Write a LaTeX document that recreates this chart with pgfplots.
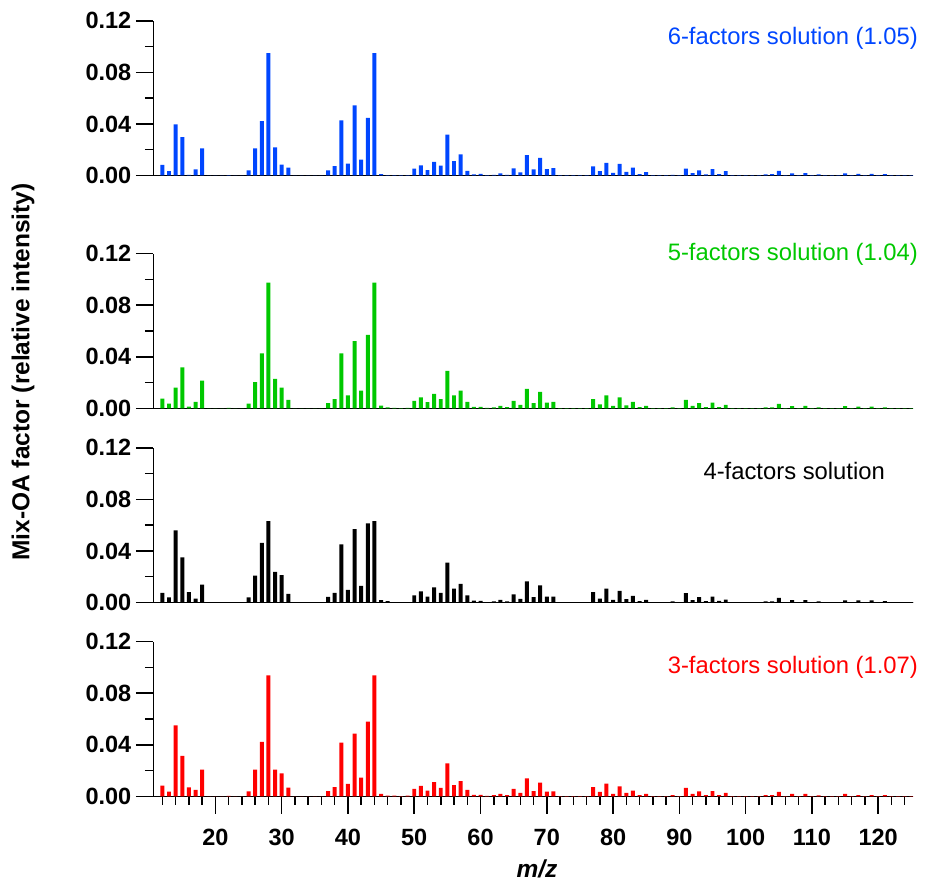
\documentclass[border=0pt]{standalone}
\usepackage{fontspec}
\setmainfont{Liberation Sans}
\usepackage{pgfplots}
\usepackage{pgfplotstable}
\pgfplotsset{compat=1.18}
\definecolor{cblue}{RGB}{0,70,255}
\definecolor{cgreen}{RGB}{0,200,0}
\definecolor{cred}{RGB}{255,0,0}

\pgfplotstableread{
mz b g k r
12 0.0083 0.0075 0.0075 0.0083
13 0.0034 0.0036 0.0039 0.0036
14 0.0396 0.0160 0.0560 0.0551
15 0.0298 0.0318 0.0351 0.0313
16 0.0005 0.0013 0.0080 0.0070
17 0.0047 0.0049 0.0031 0.0049
18 0.0210 0.0215 0.0139 0.0207
19 0 0 0 0
20 0 0 0 0
21 0 0 0 0
22 0.0003 0.0003 0.0002 0.0003
23 0 0 0 0
24 0 0 0 0
25 0.0039 0.0036 0.0039 0.0039
26 0.0210 0.0204 0.0209 0.0207
27 0.0422 0.0427 0.0462 0.0422
28 0.0950 0.0975 0.0632 0.0939
29 0.0218 0.0228 0.0237 0.0207
30 0.0085 0.0160 0.0212 0.0178
31 0.0062 0.0065 0.0067 0.0067
32 0 0 0 0
33 0 0 0 0
34 0 0 0 0
35 0 0 0 0
36 0 0 0 0
37 0.0039 0.0041 0.0044 0.0041
38 0.0073 0.0072 0.0075 0.0072
39 0.0427 0.0427 0.0452 0.0416
40 0.0093 0.0101 0.0098 0.0096
41 0.0544 0.0522 0.0570 0.0486
42 0.0124 0.0137 0.0129 0.0145
43 0.0448 0.0569 0.0614 0.0579
44 0.0950 0.0975 0.0632 0.0939
45 0.0010 0.0020 0.0018 0.0018
46 0.0003 0.0008 0.0010 0.0005
47 0.0003 0.0003 0.0003 0.0005
48 0.0002 0.0002 0.0002 0.0002
49 0.0003 0.0003 0.0003 0.0005
50 0.0053 0.0057 0.0056 0.0057
51 0.0079 0.0085 0.0086 0.0081
52 0.0042 0.0048 0.0045 0.0044
53 0.0106 0.0112 0.0118 0.0110
54 0.0076 0.0071 0.0074 0.0066
55 0.0318 0.0291 0.0310 0.0256
56 0.0111 0.0101 0.0107 0.0086
57 0.0163 0.0137 0.0145 0.0118
58 0.0035 0.0049 0.0055 0.0049
59 0.0008 0.0012 0.0015 0.0012
60 0.0012 0.0012 0.0012 0.0012
61 0.0003 0.0003 0.0003 0.0003
62 0.0004 0.0008 0.0009 0.0010
63 0.0017 0.0019 0.0020 0.0018
64 0.0005 0.0009 0.0009 0.0010
65 0.0055 0.0057 0.0064 0.0057
66 0.0024 0.0027 0.0028 0.0027
67 0.0158 0.0150 0.0164 0.0140
68 0.0047 0.0041 0.0041 0.0041
69 0.0137 0.0127 0.0132 0.0106
70 0.0049 0.0044 0.0046 0.0036
71 0.0057 0.0049 0.0046 0.0039
72 0.0002 0.0002 0.0002 0.0002
73 0.0002 0.0002 0.0002 0.0002
74 0.0002 0.0002 0.0002 0.0002
75 0.0002 0.0002 0.0002 0.0002
76 0.0002 0.0002 0.0002 0.0002
77 0.0070 0.0072 0.0080 0.0072
78 0.0034 0.0031 0.0031 0.0034
79 0.0098 0.0101 0.0108 0.0098
80 0.0021 0.0018 0.0021 0.0018
81 0.0090 0.0085 0.0090 0.0078
82 0.0028 0.0023 0.0026 0.0026
83 0.0062 0.0049 0.0052 0.0044
84 0.0010 0.0010 0.0010 0.0010
85 0.0026 0.0018 0.0021 0.0018
86 0.0002 0.0002 0.0002 0.0002
87 0.0002 0.0002 0.0002 0.0002
88 0.0002 0.0002 0.0002 0.0002
89 0.0005 0.0008 0.0008 0.0010
90 0.0002 0.0002 0.0002 0.0002
91 0.0054 0.0065 0.0072 0.0065
92 0.0018 0.0018 0.0018 0.0018
93 0.0039 0.0041 0.0041 0.0039
94 0.0008 0.0010 0.0010 0.0010
95 0.0049 0.0044 0.0046 0.0041
96 0.0010 0.0010 0.0013 0.0010
97 0.0034 0.0026 0.0023 0.0026
98 0.0002 0.0002 0.0002 0.0002
99 0.0002 0.0002 0.0002 0.0002
100 0.0002 0.0002 0.0002 0.0002
101 0.0002 0.0002 0.0002 0.0002
102 0.0002 0.0002 0.0002 0.0002
103 0.0008 0.0008 0.0008 0.0010
104 0.0010 0.0008 0.0008 0.0010
105 0.0036 0.0034 0.0036 0.0034
106 0.0002 0.0002 0.0002 0.0002
107 0.0016 0.0016 0.0018 0.0018
108 0.0002 0.0002 0.0002 0.0002
109 0.0018 0.0018 0.0018 0.0018
110 0.0002 0.0002 0.0002 0.0002
111 0.0008 0.0008 0.0008 0.0008
112 0.0002 0.0002 0.0002 0.0002
113 0.0002 0.0002 0.0002 0.0002
114 0.0002 0.0002 0.0002 0.0002
115 0.0016 0.0016 0.0016 0.0018
116 0.0002 0.0002 0.0002 0.0002
117 0.0013 0.0013 0.0016 0.0010
118 0.0002 0.0002 0.0002 0.0002
119 0.0013 0.0013 0.0016 0.0010
120 0.0002 0.0002 0.0002 0.0002
121 0.0010 0.0008 0.0010 0.0010
122 0.0002 0.0002 0.0002 0.0002
123 0.0002 0.0002 0.0002 0.0002
124 0.0002 0.0002 0.0002 0.0002
125 0.0002 0.0002 0.0002 0.0002
}\spectra

\pgfplotsset{
  panel/.style={
    scale only axis, width=760pt, height=154.6pt,
    xmin=10.63, xmax=125.3, ymin=0, ymax=0.12,
    axis x line*=bottom, axis y line*=left,
    axis line style={line width=1.5pt, black, -},
    tick align=outside,
    major tick length=17.5pt, minor tick length=8.5pt,
    tick style={line width=1.5pt, black},
    ytick={0,0.04,0.08,0.12}, minor ytick={0.02,0.06,0.1},
    /pgf/number format/assume math mode=true,
    yticklabel={\pgfmathprintnumber[fixed,fixed zerofill,precision=2]{\tick}},
    yticklabel style={font=\fontsize{23.5}{28}\selectfont\bfseries, xshift=-1pt},
    xtick=\empty,
    ybar, bar width=0.6, bar shift=0pt,
    anchor=south west,
  }
}

\begin{document}
\begin{tikzpicture}
\path[use as bounding box] (0pt,0pt) rectangle (925pt,-885pt);

\begin{axis}[panel, at={(153.3pt,-175.5pt)}]
\addplot[fill=cblue, draw=none] table[x=mz, y=b] {\spectra};
\end{axis}

\begin{axis}[panel, at={(153.3pt,-408.3pt)}]
\addplot[fill=cgreen, draw=none] table[x=mz, y=g] {\spectra};
\end{axis}

\begin{axis}[panel, at={(153.3pt,-602.5pt)}]
\addplot[fill=black, draw=none] table[x=mz, y=k] {\spectra};
\end{axis}

\begin{axis}[panel, at={(153.3pt,-796.3pt)},
  xtick={20,30,...,120}, minor xtick={12,14,...,124},
  xticklabel={\pgfmathprintnumber{\tick}},
  xticklabel style={font=\fontsize{23.5}{28}\selectfont\bfseries, yshift=-12pt}]
\addplot[fill=cred, draw=none] table[x=mz, y=r] {\spectra};
\end{axis}

\node[anchor=east, inner sep=0pt, text=cblue, font=\fontsize{23.8}{28}\selectfont] at (918pt,-38pt) {6-factors solution (1.05)};
\node[anchor=east, inner sep=0pt, text=cgreen, font=\fontsize{23.8}{28}\selectfont] at (918pt,-254pt) {5-factors solution (1.04)};
\node[anchor=east, inner sep=0pt, text=black, font=\fontsize{23.8}{28}\selectfont] at (885pt,-471pt) {4-factors solution};
\node[anchor=east, inner sep=0pt, text=cred, font=\fontsize{23.8}{28}\selectfont] at (918pt,-667pt) {3-factors solution (1.07)};

\node[rotate=90, inner sep=0pt, font=\fontsize{24.5}{29}\selectfont\bfseries] at (23pt,-372pt) {Mix-OA factor (relative intensity)};
\node[inner sep=0pt, font=\fontsize{24.5}{29}\selectfont\bfseries\itshape] at (537pt,-869pt) {m/z};
\end{tikzpicture}
\end{document}
